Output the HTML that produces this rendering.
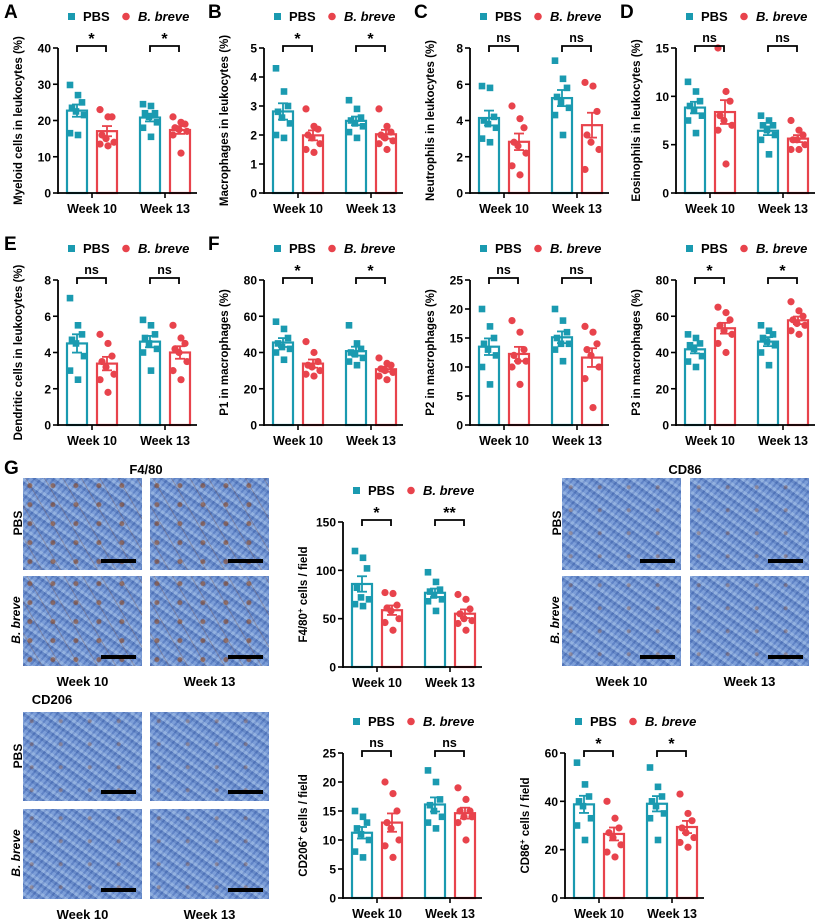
<!DOCTYPE html>
<html><head><meta charset="utf-8"><style>
body{margin:0;background:#fff;}
#fig{position:relative;width:824px;height:921px;overflow:hidden;font-family:"Liberation Sans",Arial,sans-serif;}
.tile{position:absolute;background-color:#7197d2;
background-image:
radial-gradient(circle at 30% 40%, rgba(150,80,40,.35) 0 1.5px, transparent 2.5px),
repeating-linear-gradient(35deg, rgba(50,85,165,.35) 0 3px, rgba(175,200,238,.35) 3px 6px, rgba(100,135,210,.25) 6px 10px),
repeating-linear-gradient(-50deg, rgba(40,70,150,.25) 0 2px, rgba(190,210,240,.25) 2px 5px);
background-size:29px 23px,auto,auto;}
.tile.brown{background-image:
radial-gradient(circle at 30% 40%, rgba(140,70,30,.6) 0 2px, transparent 3px),
repeating-linear-gradient(60deg, rgba(130,70,40,.25) 0 1px, transparent 1px 16px),
repeating-linear-gradient(35deg, rgba(50,85,165,.35) 0 3px, rgba(175,200,238,.35) 3px 6px, rgba(100,135,210,.25) 6px 10px),
repeating-linear-gradient(-50deg, rgba(40,70,150,.25) 0 2px, rgba(190,210,240,.25) 2px 5px);
background-size:23px 19px,auto,auto,auto;}
.scale{position:absolute;right:6px;bottom:7px;width:35px;height:4px;background:#000;}
.lbl{position:absolute;font-weight:bold;font-size:13px;color:#000;}
.plet{position:absolute;font-weight:bold;font-size:19px;}
</style></head><body>
<div id="fig">
<svg id="svg" width="824" height="921" style="position:absolute;left:0;top:0"></svg>
</div>
<script>
// ---- data ----
const groups = ["Week 10","Week 13"];
const series = ["PBS","B. breve"];
const A_pts = [[29.8,27,25,23.5,22.5,21.5,16.5,16],[23,21,21,16,15,14,13.5,13],[24.5,24,22,22,21,19.5,18,15.5],[21,19.5,19,18,17.5,17,16,11]];
const B_pts = [[4.3,3.5,3.0,2.8,2.6,2.4,2.0,1.9],[2.9,2.3,2.2,2.0,1.9,1.7,1.5,1.4],[3.2,2.9,2.6,2.5,2.4,2.3,2.1,1.9],[2.9,2.3,2.1,2.0,1.9,1.8,1.7,1.5]];
const C_pts = [[5.9,5.8,4.2,4.0,3.8,3.6,3.0,2.8],[4.8,4.1,3.6,2.8,2.6,2.2,1.5,1.0],[7.3,6.3,5.8,5.3,5.0,4.7,4.3,3.2],[6.1,5.9,4.5,3.2,2.8,2.4,1.3]];
const D_pts = [[11.5,10.5,9.5,9,8.5,8,7.5,6.2],[15,10.5,9.5,8,7.5,7,6.5,3],[8,7.5,7,7,6.5,6,5.5,4],[7.5,6.5,6,5.5,5.5,5,4.5,4.5]];
const E_pts = [[7,5.5,5,4.7,4.5,3.8,3,2.5],[5,4.5,3.8,3.5,3.2,2.8,2.5,1.8],[5.8,5.5,5,4.8,4.5,4.2,4,3],[5.5,4.8,4.5,4.2,4,3.5,3,2.5]];
const F1_pts = [[57,53,48,45,43,42,40,36],[46,40,35,33,32,30,28,27],[55,45,42,40,39,37,35,33],[37,34,33,31,30,29,27,25]];
const F2_pts = [[20,17,15,14,13,12,10,7],[18,16,13,12,11,11,10,7],[20,18,16,15,14,14,13,11],[17,16,14,13,12,10,8,3]];
const F3_pts = [[50,48,45,44,42,38,35,32],[65,62,58,55,52,50,45,40],[55,52,50,48,46,44,40,33],[68,63,60,58,56,55,52,50]];
const G1_pts = [[120,113,102,82,72,70,65,63],[77,76,64,61,58,50,46,38],[98,88,80,78,74,70,68,58],[75,70,60,55,50,48,45,38]];
const G2_pts = [[15,14,13,12,11,10,8,7],[20,18,15,13,12,10,9,7],[22,20,17,16,15,14,13,12],[19,17,15,15,14,14,13,10]];
const G3_pts = [[56,47,42,40,38,33,30,24],[40,33,29,27,25,22,19,17],[54,46,42,40,38,35,33,24],[43,35,32,29,27,25,23,21]];
const ticksA=[0,10,20,30,40], ticksB=[0,1,2,3,4,5], ticksC=[0,2,4,6,8], ticksD=[0,5,10,15], ticksF=[0,20,40,60,80], ticksF2=[0,5,10,15,20,25], ticksG1=[0,50,100,150], ticksG3=[0,20,40,60];

const NS="http://www.w3.org/2000/svg";
const svg=document.getElementById('svg');
const TEAL="#1a9ab0", RED="#e8434c";
function el(tag,attrs,parent){const e=document.createElementNS(NS,tag);for(const k in attrs)e.setAttribute(k,attrs[k]);(parent||svg).appendChild(e);return e;}
function txt(x,y,s,attrs,parent){const t=el('text',Object.assign({x:x,y:y,'font-family':'Liberation Sans, Arial, sans-serif','font-weight':'bold','font-size':12},attrs),parent);t.textContent=s;return t;}
function mean(a){return a.reduce((p,c)=>p+c,0)/a.length;}
function sem(a){const m=mean(a);return Math.sqrt(a.reduce((p,c)=>p+(c-m)*(c-m),0)/(a.length-1))/Math.sqrt(a.length);}

function panel(name,ox,oy,pts,ticks,ylabel,sig,yhtml){
  const g=el('g',{});
  
  
  const ax=ox+58, y0=oy+193, ytop=oy+48, max=ticks[ticks.length-1];
  const Y=v=>y0-(v/max)*(y0-ytop);
  const barX=[9,39,82,112];
  const lg=el('g',{},g);
  
  
  el('rect',{x:ax+10,y:oy+13,width:7,height:7,fill:TEAL},lg);
  txt(ax+25,oy+21,'PBS',{'font-size':13},lg);
  el('circle',{cx:ax+68,cy:oy+16.5,r:3.8,fill:RED},lg);
  txt(ax+80,oy+21,'B. breve',{'font-size':13,'font-style':'italic'},lg);
  pts.forEach((p,i)=>{
    const c=(i%2==0)?TEAL:RED, x=ax+barX[i], w=20, m=mean(p), s=sem(p);
    const b=el('rect',{x:x,y:Y(m),width:w,height:y0-Y(m),fill:'none',stroke:c,'stroke-width':2.2},g);
    
    
    el('line',{x1:x+w/2,x2:x+w/2,y1:Y(m-s),y2:Y(m+s),stroke:c,'stroke-width':1.8},g);
    el('line',{x1:x+w/2-5,x2:x+w/2+5,y1:Y(m+s),y2:Y(m+s),stroke:c,'stroke-width':1.8},g);
    el('line',{x1:x+w/2-5,x2:x+w/2+5,y1:Y(m-s),y2:Y(m-s),stroke:c,'stroke-width':1.8},g);
    p.forEach((v,j)=>{
      const jx=x+w/2+((j%3)-1)*6+((j%2)?1:-1);
      let d;
      if(i%2==0) d=el('rect',{x:jx-3.3,y:Y(v)-3.3,width:6.6,height:6.6,fill:c},g);
      else d=el('circle',{cx:jx,cy:Y(v),r:3.6,fill:c},g);
      
      
    });
  });
  const yax=el('g',{},g);
  
  
  el('line',{x1:ax,x2:ax,y1:ytop,y2:y0+1,stroke:'#000','stroke-width':1.8},yax);
  ticks.forEach(t=>{el('line',{x1:ax-5,x2:ax,y1:Y(t),y2:Y(t),stroke:'#000','stroke-width':1.6},yax);
    txt(ax-7,Y(t)+4.5,String(t),{'text-anchor':'end'},yax);});
  el('line',{x1:ax,x2:ax+139,y1:y0,y2:y0,stroke:'#000','stroke-width':1.8},g);
  [34,107].forEach((dx,i)=>{el('line',{x1:ax+dx,x2:ax+dx,y1:y0,y2:y0+5,stroke:'#000','stroke-width':1.6},g);
    const t=txt(ax+dx,y0+20,groups[i],{'text-anchor':'middle','font-size':12.5},g);
    
    });
  const yl=txt(0,0,ylabel,{'text-anchor':'middle','font-size':11.5,transform:`translate(${ox+22},${(ytop+y0)/2}) rotate(-90)`},g);
  
  
  if(yhtml){yl.textContent='';yhtml(yl);}
  [[19,48],[92,121]].forEach((r,i)=>{
    const yb=oy+46;
    el('path',{d:`M${ax+r[0]},${yb+6}V${yb}H${ax+r[1]}V${yb+6}`,fill:'none',stroke:'#000','stroke-width':1.8},g);
    const s=sig[i];
    txt(ax+(r[0]+r[1])/2,s=='ns'?yb-4:yb-2,s,{'text-anchor':'middle','font-size':s=='ns'?12.5:16},g);
  });
}
function sup(base,s,rest){return t=>{t.appendChild(document.createTextNode(base));const ts=document.createElementNS(NS,'tspan');ts.setAttribute('dy','-4');ts.setAttribute('font-size','8');ts.textContent=s;t.appendChild(ts);const t2=document.createElementNS(NS,'tspan');t2.setAttribute('dy','4');t2.textContent=rest;t.appendChild(t2);};}

panel('myeloid-chart',0,0,A_pts,ticksA,'Myeloid cells in leukocytes (%)',['*','*']);
panel('macrophage-chart',206,0,B_pts,ticksB,'Macrophages in leukocytes (%)',['*','*']);
panel('neutrophil-chart',412,0,C_pts,ticksC,'Neutrophils in leukocytes (%)',['ns','ns']);
panel('eosinophil-chart',618,0,D_pts,ticksD,'Eosinophils in leukocytes (%)',['ns','ns']);
panel('dendritic-chart',0,232,E_pts,ticksC,'Dendritic cells in leukocytes (%)',['ns','ns']);
panel('p1-chart',206,232,F1_pts,ticksF,'P1 in macrophages (%)',['*','*']);
panel('p2-chart',412,232,F2_pts,ticksF2,'P2 in macrophages (%)',['ns','ns']);
panel('p3-chart',618,232,F3_pts,ticksF,'P3 in macrophages (%)',['*','*']);
panel('f480-chart',285,474,G1_pts,ticksG1,'',['*','**'],sup('F4/80','+',' cells / field'));
panel('cd206-chart',285,705,G2_pts,ticksF2,'',['ns','ns'],sup('CD206','+',' cells / field'));
panel('cd86-chart',507,705,G3_pts,ticksG3,'',['*','*'],sup('CD86','+',' cells / field'));

const fig=document.getElementById('fig');
function div(cls,style,html,name){const d=document.createElement('div');d.className=cls;d.style.cssText=style;if(html)d.innerHTML=html;


fig.appendChild(d);return d;}
[['A',4,2],['B',208,2],['C',414,2],['D',620,2],['E',4,234],['F',208,234],['G',4,458]].forEach(p=>div('plet',`left:${p[1]}px;top:${p[2]}px`,p[0],'panel-letter'));
function block(title,tx,ty,x1,x2,y1,y2,h1,h2,brown){
  div('lbl',`left:${tx}px;top:${ty}px;width:120px;text-align:center`,title,'image-title');
  [[x1,y1,h1],[x2,y1,h1],[x1,y2,h2],[x2,y2,h2]].forEach(p=>{div('tile'+(brown?' brown':''),`left:${p[0]}px;top:${p[1]}px;width:119px;height:${p[2]}px`,'<div class="scale"></div>','ihc-image');});
  div('lbl',`left:${x1-30}px;top:${y1+h1/2-8}px;transform:rotate(-90deg);width:50px;text-align:center;font-size:12px`,'PBS','row-label');
  div('lbl',`left:${x1-42}px;top:${y2+h2/2-8}px;transform:rotate(-90deg);width:70px;text-align:center;font-size:12px;font-style:italic`,'B. breve','row-label');
  div('lbl',`left:${x1}px;top:${y2+h2+8}px;width:119px;text-align:center`,'Week 10','col-label');
  div('lbl',`left:${x2}px;top:${y2+h2+8}px;width:119px;text-align:center`,'Week 13','col-label');
}
block('F4/80',86,462,23,150,478,576,92,90,true);
block('CD86',625,462,562,690,478,576,92,90,false);
block('CD206',-8,692,23,150,712,809,89,90,false);
</script>
</body></html>
